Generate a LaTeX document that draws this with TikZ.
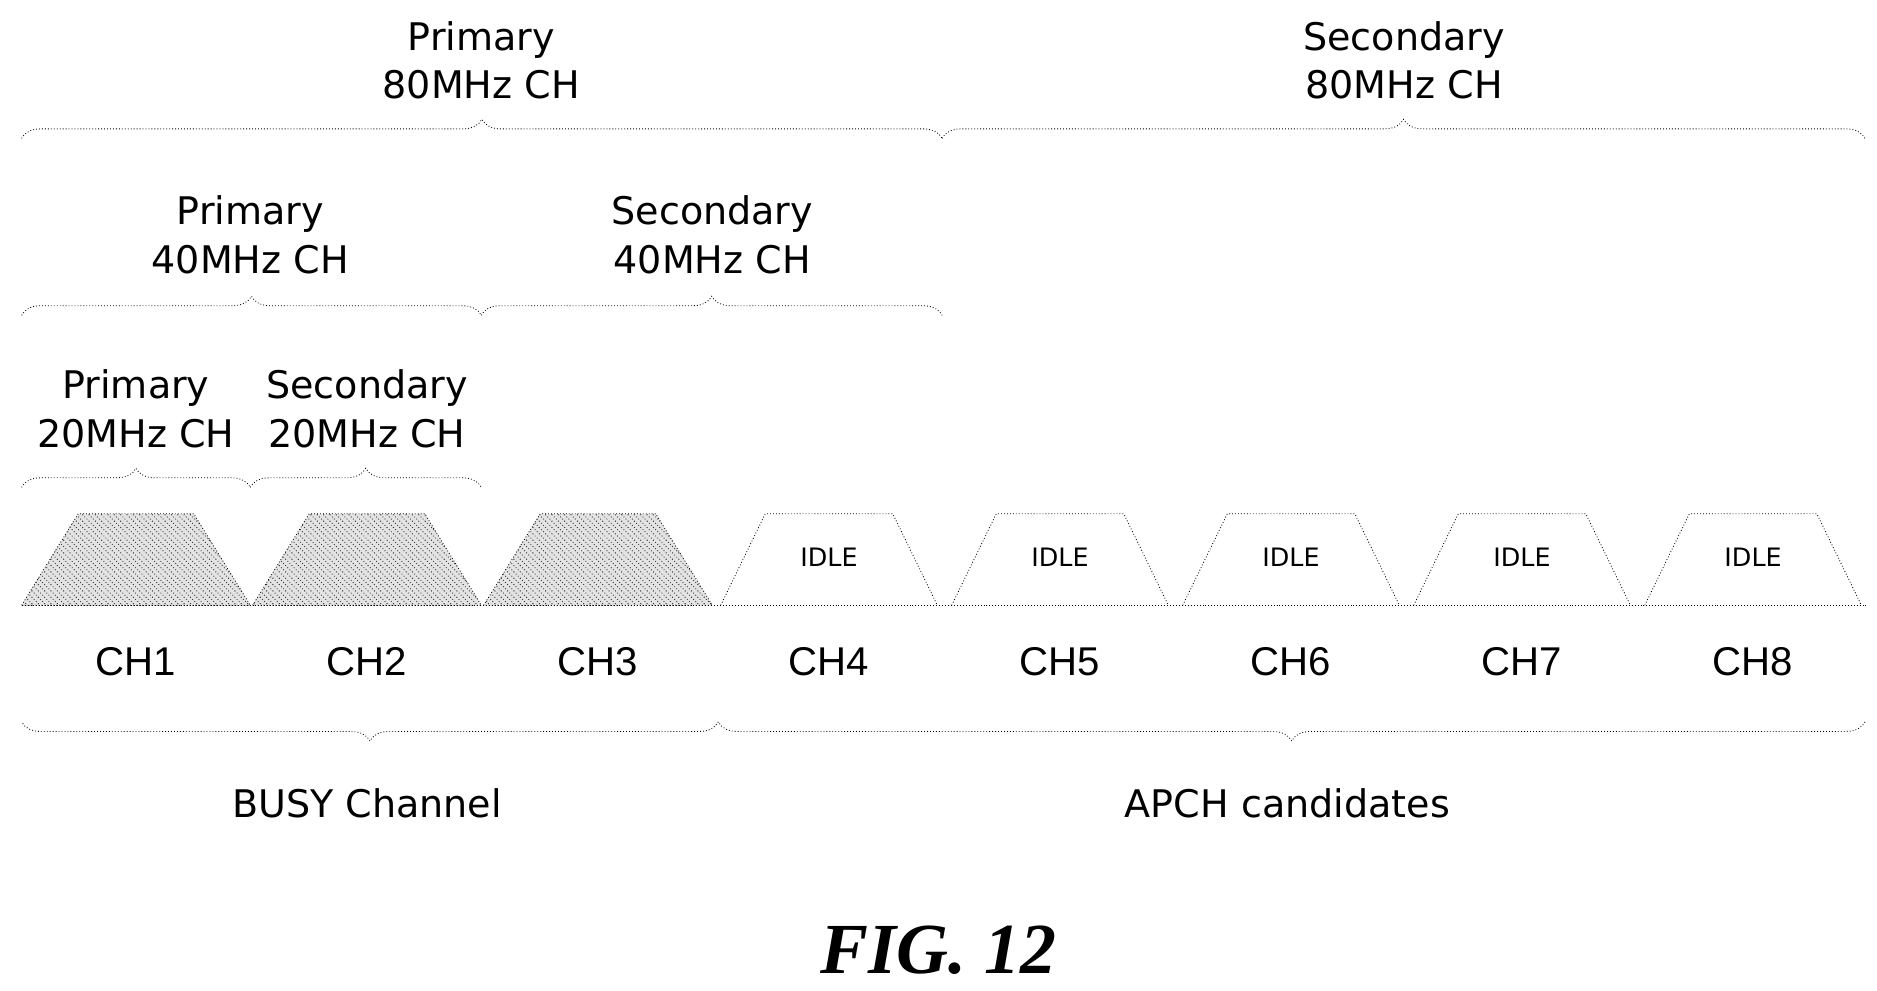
\documentclass[tikz,border=0pt]{standalone}
\usepackage{fontspec}
\setmainfont{Liberation Serif}
\setsansfont{DejaVu Sans}
\usetikzlibrary{positioning,patterns,decorations.pathreplacing}
\tikzset{
  brc/.style={decorate, decoration={brace, amplitude=9pt}, densely dotted, thin},
  lbl/.style={font=\sffamily\fontsize{18}{23}\selectfont, align=center},
  chl/.style={font=\fontspec{Liberation Sans}\fontsize{19}{21}\selectfont},
  busy/.style={densely dotted, pattern=north west lines, pattern color=black!80},
  idle/.style={densely dotted},
}
\begin{document}
\begin{tikzpicture}[x=0.02cm, y=-0.02cm]
\useasboundingbox (0,0) rectangle (1560,823);
% channels
\foreach \i in {1,...,8} {
  \pgfmathsetmacro{\cx}{113+192*(\i-1)}
  \coordinate (b\i) at (\cx-95,503);
  \coordinate (c\i) at (\cx,503);
  \node[chl] (ch\i) at (\cx,550) {CH\i};
}
\coordinate (b9) at (1551,503);
\foreach \i in {1,2,3} {
  \pgfmathsetmacro{\cx}{113+192*(\i-1)}
  \fill[gray!22] (\cx-95,503) -- (\cx-48,427) -- (\cx+48,427) -- (\cx+95,503) -- cycle;
  \draw[busy] (\cx-95,503) -- (\cx-48,427) -- (\cx+48,427) -- (\cx+95,503) -- cycle;
}
\foreach \i in {4,...,8} {
  \pgfmathsetmacro{\cx}{113+192*(\i-1)}
  \draw[idle] (\cx-90,503) -- (\cx-53,427) -- (\cx+53,427) -- (\cx+90,503);
  \node[font=\sffamily\fontsize{12}{14}\selectfont] (idle\i) at (\cx,463) {IDLE};
}
\draw[densely dotted] (b1) -- (b9);
% braces
\coordinate (p20l) at (18,405);  \coordinate (p20m) at (208,405); \coordinate (p20r) at (400,405);
\coordinate (p40l) at (18,262);  \coordinate (p40m) at (400,262); \coordinate (p40r) at (783,262);
\coordinate (p80l) at (18,115);  \coordinate (p80m) at (783,115); \coordinate (p80r) at (1550,115);
\draw[brc] (p20l) -- (p20m);
\draw[brc] (p20m) -- (p20r);
\draw[brc] (p40l) -- (p40m);
\draw[brc] (p40m) -- (p40r);
\draw[brc] (p80l) -- (p80m);
\draw[brc] (p80m) -- (p80r);
\coordinate (dl) at (18,600); \coordinate (dm) at (597,600); \coordinate (dr) at (1550,600);
\draw[brc] (dm) -- (dl);
\draw[brc] (dr) -- (dm);
% labels
\node[lbl] (pri20) at (113,340) {Primary\\20MHz CH};
\node[lbl] (sec20) at (305,340) {Secondary\\20MHz CH};
\node[lbl] (pri40) at (208,195) {Primary\\40MHz CH};
\node[lbl] (sec40) at (592,195) {Secondary\\40MHz CH};
\node[lbl] (pri80) at (400,50) {Primary\\80MHz CH};
\node[lbl] (sec80) at (1167,50) {Secondary\\80MHz CH};
\node[lbl] (busy) at (305,668) {BUSY Channel};
\node[lbl] (apch) at (1070,668) {APCH candidates};
\node[font=\bfseries\itshape\fontsize{34}{38}\selectfont] (fig) at (780,790) {FIG. 12};
\end{tikzpicture}
\end{document}
